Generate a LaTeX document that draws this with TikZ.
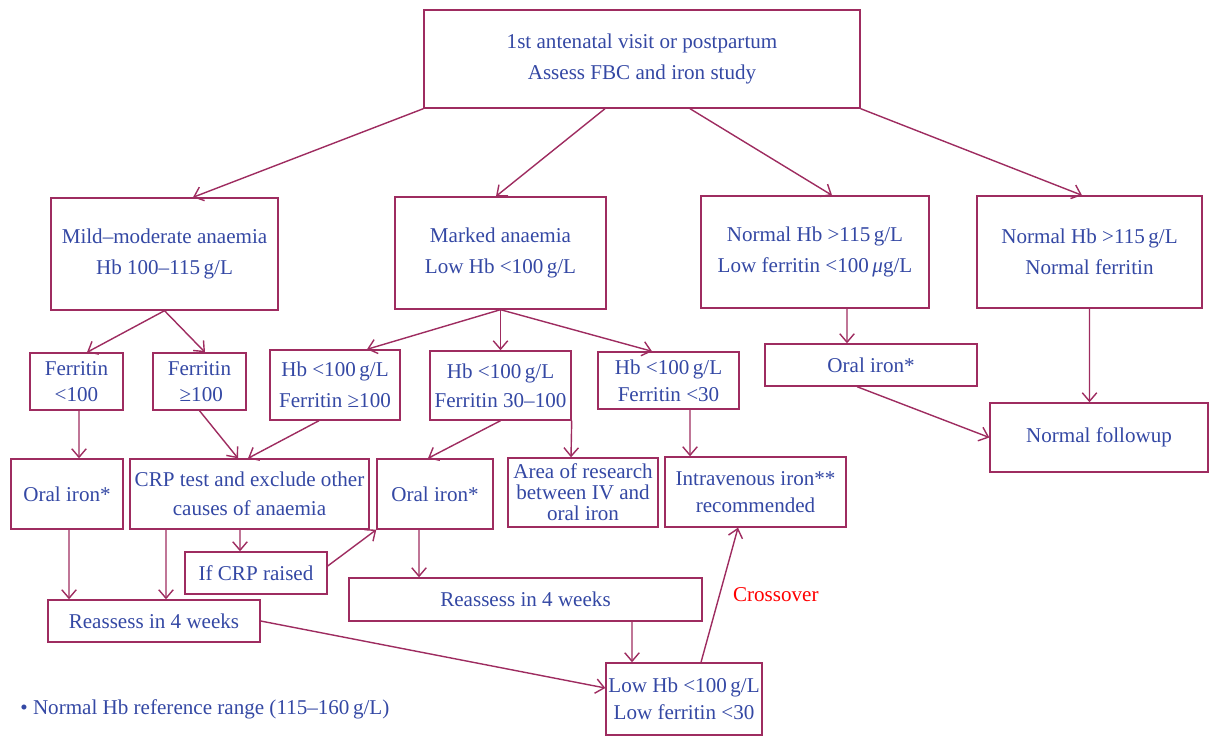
\documentclass[tikz,border=0pt]{standalone}
\usepackage{fontspec}
\setmainfont{Liberation Serif}
\usepackage{xcolor}
\usetikzlibrary{arrows.meta}

\definecolor{boxc}{RGB}{158,44,96}
\definecolor{txtc}{RGB}{52,72,164}

\begin{document}
\begin{tikzpicture}[x=0.02cm, y=-0.02cm,
    box/.style={draw=boxc, line width=0.8pt, text=txtc, align=center, inner sep=0pt,
                font=\fontsize{12}{17.5}\selectfont},
    tight/.style={font=\fontsize{12}{12}\selectfont},
    arr/.style={draw=boxc, line width=0.8pt, -{Straight Barb[length=1.7mm,width=2.9mm]}}]
        \useasboundingbox (0,0) rectangle (1209,736);

        % Top row
        \node[box, minimum width=8.72cm, minimum height=1.96cm] (visit) at (642,59)
            {1st antenatal visit or postpartum\\Assess FBC and iron study};

        % Second row
        \node[box, minimum width=4.54cm, minimum height=2.24cm] (mild) at (164.5,254)
            {Mild--moderate anaemia\\Hb 100--115\,g/L};
        \node[box, minimum width=4.22cm, minimum height=2.24cm] (marked) at (500.5,253)
            {Marked anaemia\\Low Hb <100\,g/L};
        \node[box, minimum width=4.56cm, minimum height=2.24cm] (normlow) at (815,252)
            {Normal Hb >115\,g/L\\Low ferritin <100\,\textit{μ}g/L};
        \node[box, minimum width=4.5cm, minimum height=2.24cm] (normnorm) at (1089.5,252)
            {Normal Hb >115\,g/L\\Normal ferritin};

        % Third row
        \node[box, minimum width=1.86cm, minimum height=1.14cm, font=\fontsize{12}{14.5}\selectfont] (ferlow) at (76.5,381.5)
            {Ferritin\\<100};
        \node[box, minimum width=1.86cm, minimum height=1.14cm, font=\fontsize{12}{14.5}\selectfont] (ferhigh) at (199.5,381.5)
            {Ferritin\\\,≥100};
        \node[box, minimum width=2.6cm, minimum height=1.4cm] (hbhigh) at (335,385)
            {Hb <100\,g/L\\Ferritin ≥100};
        \node[box, minimum width=2.82cm, minimum height=1.38cm, font=\fontsize{12}{16.5}\selectfont] (hbmid) at (500.5,385.5)
            {Hb <100\,g/L\\Ferritin 30--100};
        \node[box, minimum width=2.82cm, minimum height=1.14cm, font=\fontsize{12}{15.3}\selectfont] (hblow) at (668.5,380.5)
            {Hb <100\,g/L\\Ferritin <30};
        \node[box, minimum width=4.24cm, minimum height=0.84cm] (oralr) at (871,365)
            {Oral iron*};
        \node[box, minimum width=4.36cm, minimum height=1.38cm] (followup) at (1099,437.5)
            {Normal followup};

        % Fourth row
        \node[box, minimum width=2.24cm, minimum height=1.4cm] (orall) at (67,494)
            {Oral iron*};
        \node[box, minimum width=4.78cm, minimum height=1.4cm, font=\fontsize{12}{16.5}\selectfont] (crp) at (249.5,494)
            {CRP test and exclude other\\causes of anaemia};
        \node[box, minimum width=2.32cm, minimum height=1.4cm] (oralm) at (435,494)
            {Oral iron*};
        \node[box, tight, minimum width=3cm, minimum height=1.38cm] (research) at (583,492.5)
            {Area of research\\between IV and\\oral iron};
        \node[box, minimum width=3.62cm, minimum height=1.4cm, font=\fontsize{12}{15.3}\selectfont] (iviron) at (755.5,492)
            {Intravenous iron**\\recommended};

        % Bottom rows
        \node[box, minimum width=2.84cm, minimum height=0.84cm] (ifcrp) at (256,573)
            {If CRP raised};
        \node[box, minimum width=7.06cm, minimum height=0.86cm] (reassm) at (525.5,599.5)
            {Reassess in 4 weeks};
        \node[box, minimum width=4.24cm, minimum height=0.84cm] (reassl) at (154,621)
            {Reassess in 4 weeks};
        \node[box, minimum width=3.12cm, minimum height=1.44cm, font=\fontsize{12}{15.3}\selectfont] (lowhb) at (684,699)
            {Low Hb <100\,g/L\\Low ferritin <30};

        % Footnote
        \node[anchor=west, text=txtc, inner sep=0pt, font=\fontsize{12}{13}\selectfont] (range) at (20,709)
            {• Normal Hb reference range (115--160\,g/L)};

        % Arrows from the first visit
        \draw[arr] (visit.south west) -- ([xshift=0.57cm]mild.north);
        \draw[arr] ([xshift=-0.74cm]visit.south) -- ([xshift=-0.09cm]marked.north);
        \draw[arr] ([xshift=0.96cm]visit.south) -- ([xshift=0.34cm]normlow.north);
        \draw[arr] (visit.south east) -- ([xshift=-0.15cm]normnorm.north);

        % Second row down
        \draw[arr] (mild.south) -- ([xshift=0.21cm]ferlow.north);
        \draw[arr] (mild.south) -- ([xshift=0.11cm]ferhigh.north);
        \draw[arr] (marked.south) -- ([xshift=0.64cm]hbhigh.north);
        \draw[arr] (marked.south) -- (hbmid.north);
        \draw[arr] (marked.south) -- ([xshift=-0.33cm]hblow.north);
        \draw[arr] ([xshift=0.64cm]normlow.south) -- ([xshift=-0.48cm]oralr.north);
        \draw[arr] (normnorm.south) -- ([xshift=-0.19cm]followup.north);
        \draw[arr] ([xshift=-0.28cm]oralr.south) -- (followup.west);

        % Third row down
        \draw[arr] ([xshift=0.05cm]ferlow.south) -- ([xshift=0.24cm]orall.north);
        \draw[arr] (ferhigh.south) -- ([xshift=-0.23cm]crp.north);
        \draw[arr] ([xshift=-0.32cm]hbhigh.south) -- ([xshift=-0.03cm]crp.north);
        \draw[arr] (hbmid.south) -- ([xshift=-0.14cm]oralm.north);
        \draw[arr] (hbmid.south east) -- ([xshift=-0.24cm]research.north);
        \draw[arr] ([xshift=0.43cm]hblow.south) -- ([xshift=-1.31cm]iviron.north);

        % Fourth row down
        \draw[arr] ([xshift=0.04cm]orall.south) -- ([xshift=-1.7cm]reassl.north);
        \draw[arr] ([xshift=-1.67cm]crp.south) -- ([xshift=0.24cm]reassl.north);
        \draw[arr] ([xshift=-0.19cm]crp.south) -- ([xshift=-0.32cm]ifcrp.north);
        \draw[arr] ([yshift=0.14cm]ifcrp.east) -- (oralm.south west);
        \draw[arr] ([xshift=-0.32cm]oralm.south) -- ([xshift=-2.13cm]reassm.north);

        % Reassessment
        \draw[arr] ([xshift=2.13cm]reassm.south) -- ([xshift=-1.04cm]lowhb.north);
        \draw[arr] (reassl.east) -- ([yshift=0.22cm]lowhb.west);
        \draw[arr] ([xshift=0.34cm]lowhb.north) -- ([xshift=-0.35cm]iviron.south)
            node[pos=0.5, right=4pt, text=red, font=\fontsize{12}{13}\selectfont] (cross) {Crossover};
    \end{tikzpicture}
\end{document}
